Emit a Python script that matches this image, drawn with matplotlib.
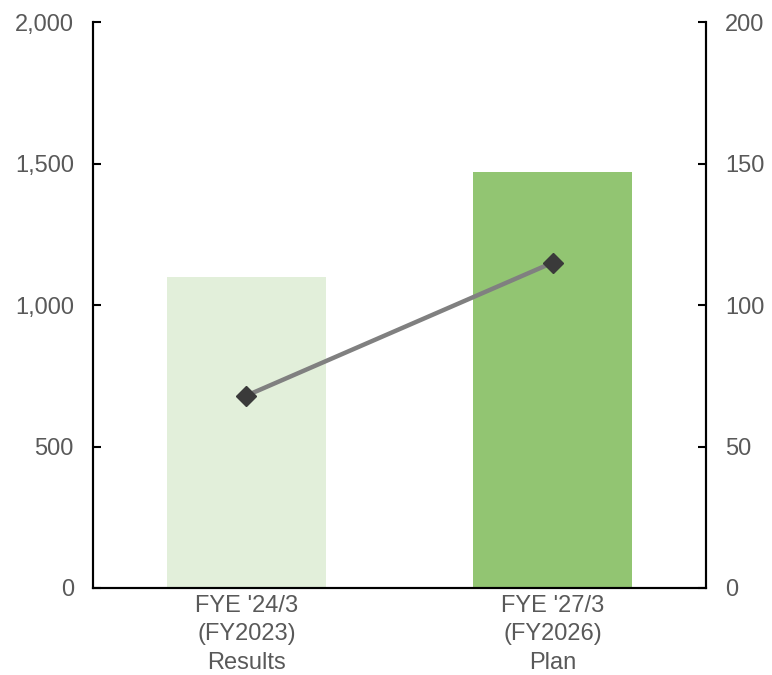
import numpy as np
import matplotlib.pyplot as plt

plt.rcParams['font.family'] = ['Liberation Sans', 'DejaVu Sans']

categories = ["FYE '24/3\n(FY2023)\nResults", "FYE '27/3\n(FY2026)\nPlan"]
bar_values = [1100, 1470]
line_values = [68, 115]
bar_colors = ['#E2EFDA', '#92C572']

fig = plt.figure(figsize=(7.72, 6.75), dpi=100)
ax = fig.add_axes([0.121, 0.129, 0.793, 0.838])
x = np.arange(len(categories))

ax.bar(x, bar_values, width=0.52, color=bar_colors, zorder=1)
ax.set_xlim(-0.5, 1.5)
ax.set_ylim(0, 2000)
ax.set_yticks(np.arange(0, 2001, 500))
ax.set_yticklabels(['{:,}'.format(v) for v in range(0, 2001, 500)])
ax.set_xticks(x)
ax.set_xticklabels(categories)

ax2 = ax.twinx()
ax2.plot(x, line_values, color='#808080', linewidth=3.2, marker='D',
         markersize=10, markerfacecolor='#3A3A3A', markeredgecolor='#3A3A3A', zorder=3)
ax2.set_ylim(0, 200)
ax2.set_yticks(np.arange(0, 201, 50))

### frame ###
for a in (ax, ax2):
    a.spines['top'].set_visible(False)
    for s in ('left', 'right', 'bottom'):
        a.spines[s].set_color('black')
        a.spines[s].set_linewidth(1.5)
    a.tick_params(axis='y', direction='in', length=6, width=1.5,
                  labelsize=17, labelcolor='#595959', pad=14)
ax.tick_params(axis='x', length=0, labelsize=17, labelcolor='#595959', pad=5)
for lab in ax.get_xticklabels():
    lab.set_linespacing(1.38)

fig.savefig('out.png', dpi=100)
